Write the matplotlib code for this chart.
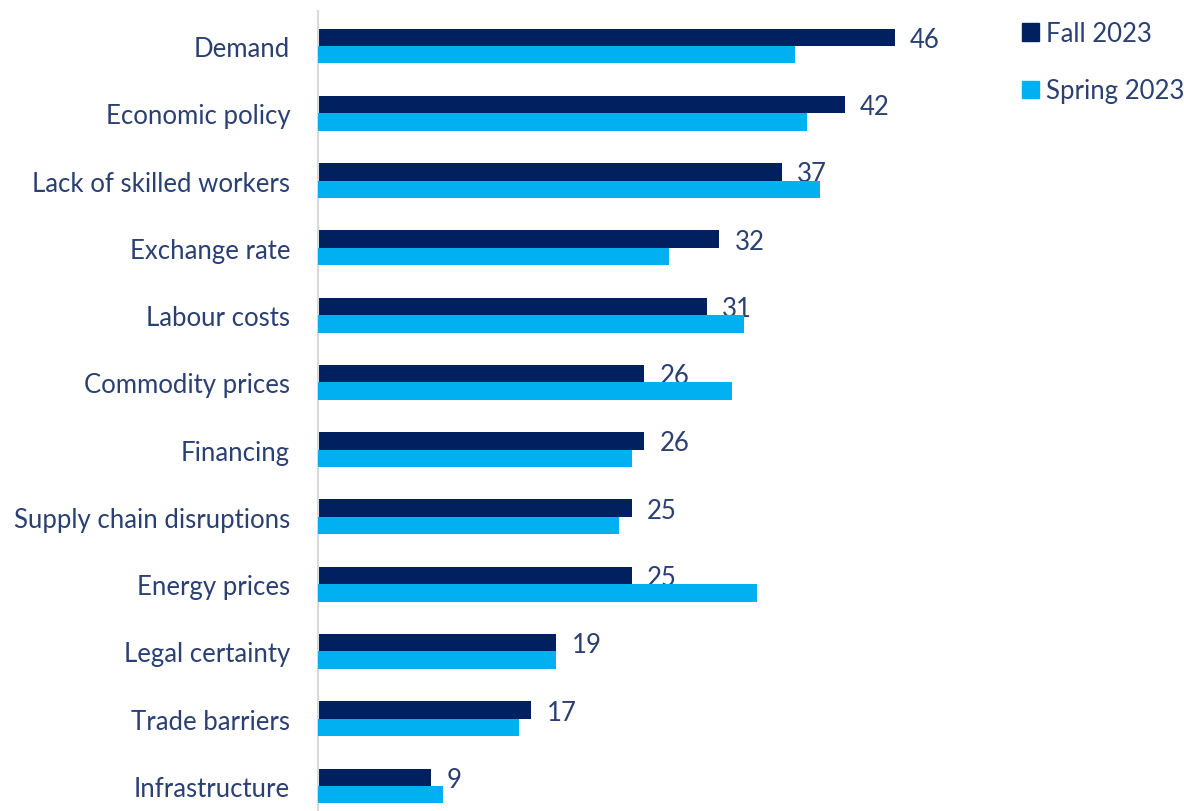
import matplotlib
matplotlib.use("Agg")
import matplotlib.pyplot as plt
from matplotlib.patches import Patch

categories = ["Demand", "Economic policy", "Lack of skilled workers", "Exchange rate",
              "Labour costs", "Commodity prices", "Financing", "Supply chain disruptions",
              "Energy prices", "Legal certainty", "Trade barriers", "Infrastructure"]
fall_2023 = [46, 42, 37, 32, 31, 26, 26, 25, 25, 19, 17, 9]
spring_2023 = [38, 39, 40, 28, 34, 33, 25, 24, 35, 19, 16, 10]
series_names = ["Fall 2023", "Spring 2023"]

DARK = "#002060"
LIGHT = "#00B0F0"
TEXT = "#2A3F72"

plt.rcParams['font.family'] = ['Lato', 'DejaVu Sans']

W, H = 1184, 812
fig = plt.figure(figsize=(W / 100, H / 100), dpi=100)
ax_left, ax_right, ax_top, ax_bottom = 318, 1000, 12, 812
ax = fig.add_axes([ax_left / W, 1 - ax_bottom / H, (ax_right - ax_left) / W, (ax_bottom - ax_top) / H])

px_per_unit = 12.54
ax.set_xlim(0, (ax_right - ax_left) / px_per_unit)
spacing = 67.27
ax.set_ylim(11 + (ax_bottom - 787) / spacing, -(47 - ax_top) / spacing)

h = 0.26
ys = list(range(len(categories)))
ax.barh([y - h / 2 for y in ys], fall_2023, height=h, color=DARK, zorder=2)
ax.barh([y + h / 2 for y in ys], spring_2023, height=h, color=LIGHT, zorder=4)

FS = 18.5
for y, v in zip(ys, fall_2023):
    ax.annotate(str(v), (v, y - h / 2), xytext=(11, -1.5), textcoords="offset points",
                va="center", ha="left", fontsize=FS, color=TEXT, zorder=3)

ax.set_yticks(ys)
ax.set_yticklabels(categories, fontsize=FS, color=TEXT)
ax.tick_params(axis="y", length=0, pad=20)
ax.set_xticks([])
for s in ["top", "right", "bottom"]:
    ax.spines[s].set_visible(False)
ax.spines["left"].set_color("#D9D9D9")
ax.spines["left"].set_linewidth(1.5)

handles = [Patch(color=DARK), Patch(color=LIGHT)]
fig.legend(handles, series_names, loc="upper left", bbox_to_anchor=(1022 / W, 1 - 22 / H),
           frameon=False, fontsize=FS, labelcolor=TEXT, handlelength=0.65, handleheight=0.65,
           handletextpad=0.3, labelspacing=1.25, borderpad=0, borderaxespad=0)

fig.savefig("out.png", dpi=100)
